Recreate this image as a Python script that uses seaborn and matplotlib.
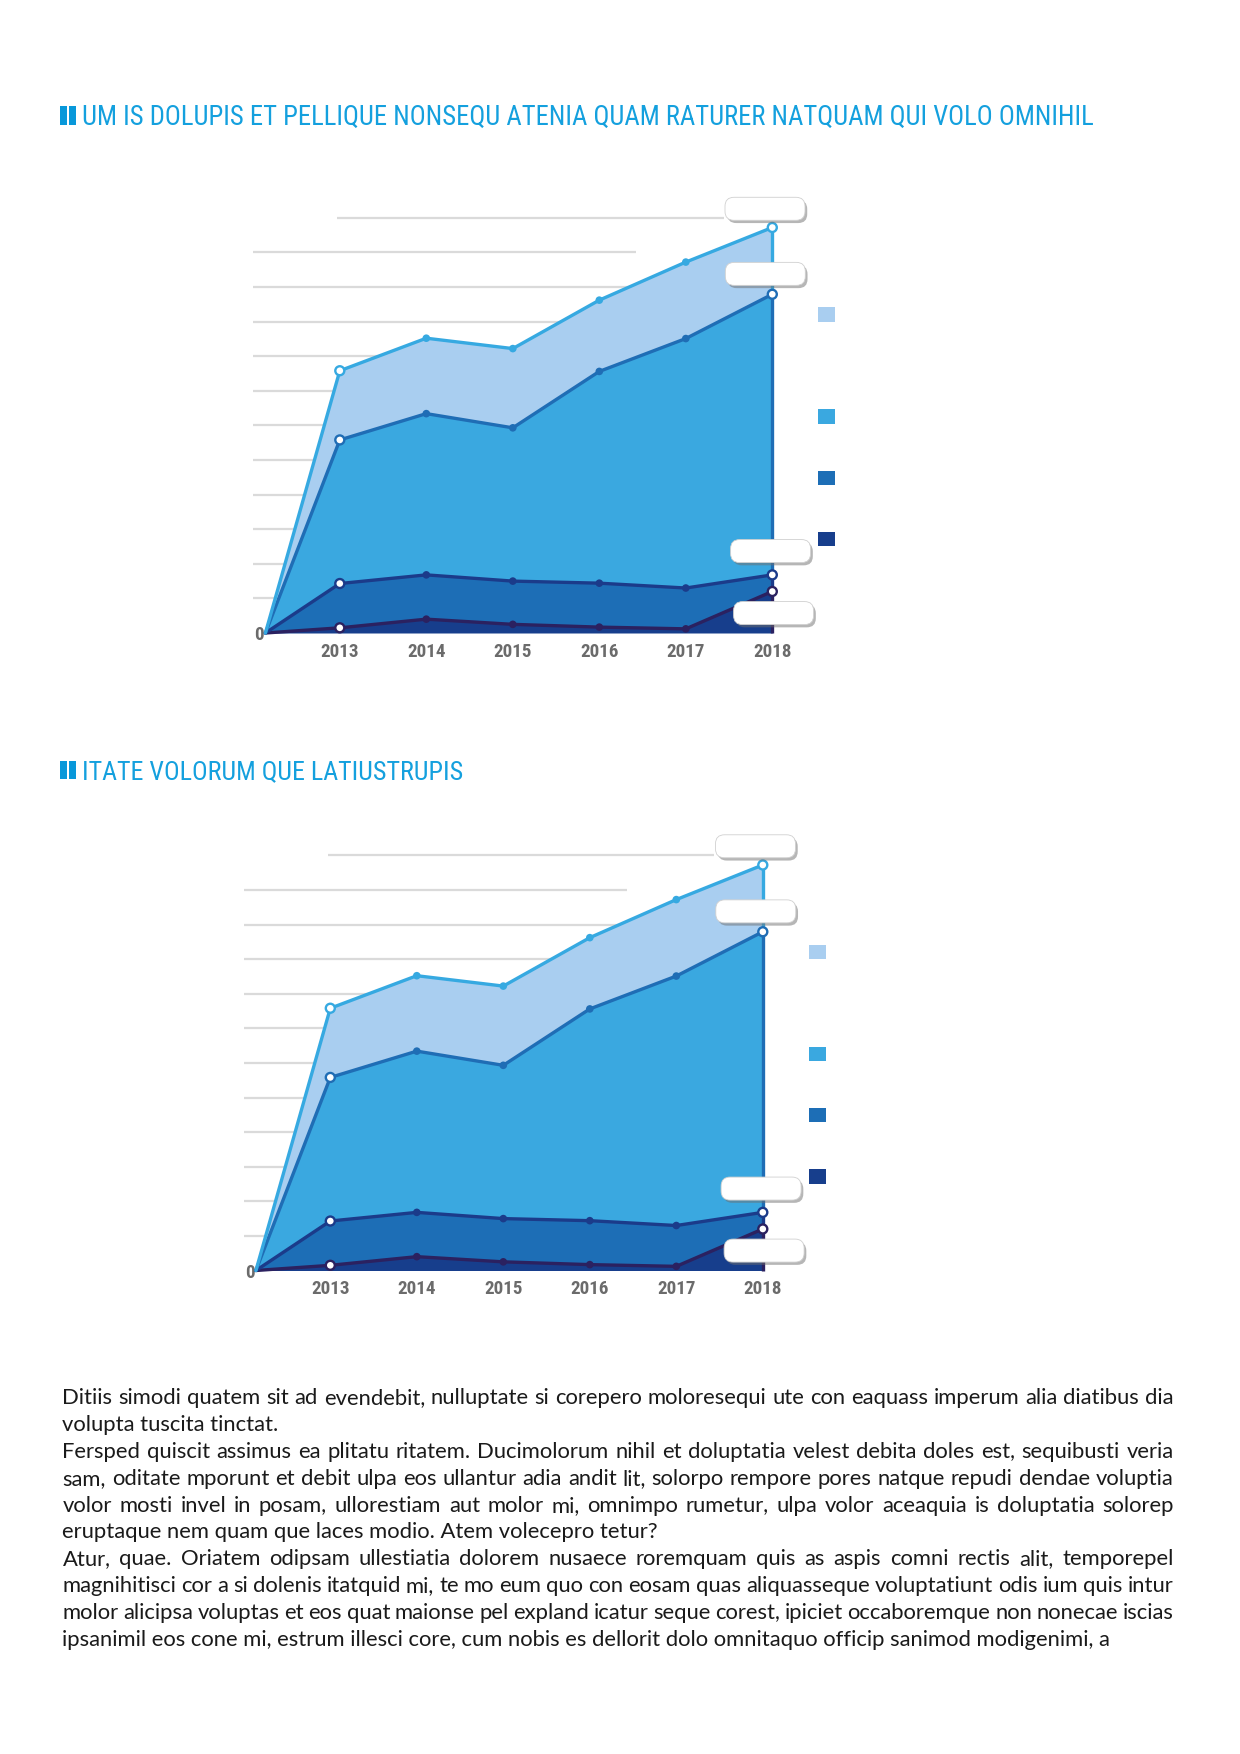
import numpy as np
import pandas as pd
import matplotlib
matplotlib.use("Agg")
import matplotlib.pyplot as plt
import matplotlib.transforms as mtransforms
import matplotlib.patheffects as pe
from matplotlib import font_manager
from matplotlib.patches import FancyBboxPatch, Rectangle, Patch
import seaborn as sns

# ---- data (stacked layers, bottom to top) ----
years = [2013, 2014, 2015, 2016, 2017, 2018]
year_labels = ["2013", "2014", "2015", "2016", "2017", "2018"]
series_names = ["darkest", "dark", "medium", "light"]
darkest_vals = [0.15, 0.40, 0.25, 0.17, 0.12, 1.20]
dark_vals = [1.28, 1.28, 1.25, 1.27, 1.18, 0.48]
medium_vals = [4.15, 4.66, 4.43, 6.12, 7.21, 8.11]
light_vals = [2.00, 2.18, 2.29, 2.06, 2.21, 1.93]
grid_levels = list(range(1, 13))

title_1 = "UM IS DOLUPIS ET PELLIQUE NONSEQU ATENIA QUAM RATURER NATQUAM QUI VOLO OMNIHIL"
title_2 = "ITATE VOLORUM QUE LATIUSTRUPIS"

paragraphs = [
    ["Ditiis simodi quatem sit ad evendebit, nulluptate si corepero moloresequi ute con eaquass imperum alia diatibus dia",
     "volupta tuscita tinctat."],
    ["Fersped quiscit assimus ea plitatu ritatem. Ducimolorum nihil et doluptatia velest debita doles est, sequibusti veria",
     "sam, oditate mporunt et debit ulpa eos ullantur adia andit lit, solorpo rempore pores natque repudi dendae voluptia",
     "volor mosti invel in posam, ullorestiam aut molor mi, omnimpo rumetur, ulpa volor aceaquia is doluptatia solorep",
     "eruptaque nem quam que laces modio. Atem volecepro tetur?"],
    ["Atur, quae. Oriatem odipsam ullestiatia dolorem nusaece roremquam quis as aspis comni rectis alit, temporepel",
     "magnihitisci cor a si dolenis itatquid mi, te mo eum quo con eosam quas aliquasseque voluptatiunt odis ium quis intur",
     "molor alicipsa voluptas et eos quat maionse pel expland icatur seque corest, ipiciet occaboremque non nonecae iscias",
     "ipsanimil eos cone mi, estrum illesci core, cum nobis es dellorit dolo omnitaquo officip sanimod modigenimi, a"],
]

# ---- styles ----
fill_colors = ["#173E8C", "#1D6EB6", "#3AA8E0", "#A9CEF0"]
line_colors = ["#2B2160", "#1B3B8A", "#1F6DB5", "#36A9E1"]
title_color = "#14A0DE"
bar_color = "#0898DA"
grid_color = "#DADADA"
tick_color = "#6B6B6B"

W, H, DPI = 1240, 1754, 100
X_START = 2012.14
X_MIN, X_MAX = 2012.0, 2019.2
Y_MAX = 12.8
PX_X = 86.5   # px per year
PX_Y = 34.6   # px per grid step

sns.set_theme(style="white")
available = {f.name for f in font_manager.fontManager.ttflist}


def pick(*names):
    for n in names:
        if n in available:
            return n
    return "DejaVu Sans"


narrow = pick("Liberation Sans Narrow", "Roboto Condensed", "DejaVu Sans Condensed", "Roboto")
body_font = pick("Lato", "Open Sans", "Noto Sans")
plt.rcParams["font.family"] = [narrow, "DejaVu Sans"]

fig = plt.figure(figsize=(W / DPI, H / DPI), dpi=DPI)
fig.patch.set_facecolor("white")
renderer = fig.canvas.get_renderer()


def measure(s, **kw):
    t = fig.text(0, 0, s, **kw)
    w = t.get_window_extent(renderer=renderer).width
    t.remove()
    return w


# font sizes fitted to the widths in the picture
year_kw = dict(family=[narrow, "DejaVu Sans"], weight="bold")
year_size = 14 * 38.5 / measure("2013", fontsize=14, **year_kw)
title_kw = dict(family=[narrow, "DejaVu Sans"])
body_kw = dict(family=[body_font, "DejaVu Sans"], color="#1A1A1A")
body_size = 13 * 1046 / measure(paragraphs[-1][-1], fontsize=13, **body_kw)


def add_title(text, baseline_px, width_px):
    size = 20 * width_px / measure(text, fontsize=20, **title_kw)
    for x0, w in [(59.5, 7.5), (69.0, 6.5)]:
        fig.add_artist(Rectangle((x0 / W, 1 - baseline_px / H), w / W, 18.5 / H,
                                 transform=fig.transFigure, color=bar_color, lw=0))
    fig.text(81.7 / W, 1 - baseline_px / H, text, fontsize=size,
             color=title_color, va="baseline", ha="left", **title_kw)


def add_chart(left_px, base_px):
    width_px = (X_MAX - X_MIN) * PX_X
    height_px = Y_MAX * PX_Y
    ax = fig.add_axes([left_px / W, (H - base_px) / H, width_px / W, height_px / H])
    ax.patch.set_alpha(0)

    xs = np.array([X_START] + years, dtype=float)
    layers = np.array([darkest_vals, dark_vals, medium_vals, light_vals])
    tops = np.cumsum(layers, axis=0)
    tops = np.hstack([np.zeros((len(layers), 1)), tops])
    bottoms = np.vstack([np.zeros(tops.shape[1]), tops[:-1]])

    # grid
    for g in grid_levels:
        if g == grid_levels[-1]:
            x0, x1 = 2012.97, 2017.44
        elif g == grid_levels[-2]:
            x0, x1 = X_MIN, 2016.43
        else:
            x0, x1 = X_MIN, years[-1]
        ax.hlines(g, x0, x1, color=grid_color, lw=1.6, zorder=0)

    for i in range(len(layers)):
        ax.fill_between(xs, bottoms[i], tops[i], color=fill_colors[i], lw=0, zorder=1)
    for i in range(len(layers)):
        ax.plot([xs[-1], xs[-1]], [bottoms[i][-1], tops[i][-1]], color=line_colors[i],
                lw=2.4, zorder=2, solid_capstyle="butt", clip_on=False)

    df = pd.DataFrame({
        "x": np.tile(xs, len(layers)),
        "y": tops.ravel(),
        "layer": np.repeat(series_names, len(xs)),
    })
    pal = dict(zip(series_names, line_colors))
    sns.lineplot(data=df, x="x", y="y", hue="layer", palette=pal, lw=2.4,
                 legend=False, sort=False, ax=ax, zorder=3, clip_on=False)

    pts = df[df["x"] != X_START]
    ends = pts[pts["x"].isin([years[0], years[-1]])]
    mids = pts[~pts["x"].isin([years[0], years[-1]])]
    sns.scatterplot(data=mids, x="x", y="y", hue="layer", palette=pal, s=30,
                    linewidth=0, legend=False, ax=ax, zorder=4, clip_on=False)
    sns.scatterplot(data=ends, x="x", y="y", color="white", s=42,
                    edgecolor=[pal[n] for n in ends["layer"]], linewidth=1.7,
                    legend=False, ax=ax, zorder=5, clip_on=False)

    # blank callout boxes next to the 2018 values
    box_offsets = {3: (-47.3, 7.2), 2: (-47.0, 8.9), 1: (-41.7, 12.3), 0: (-38.7, -33.1)}
    for i, (dx, dy) in box_offsets.items():
        trans = fig.dpi_scale_trans + mtransforms.ScaledTranslation(
            xs[-1], tops[i][-1], ax.transData)
        box = FancyBboxPatch((dx / DPI, dy / DPI), 80 / DPI, 23 / DPI,
                             boxstyle="round,pad=0,rounding_size=0.09",
                             transform=trans, fc="white", ec="#D0D0D0", lw=0.6,
                             zorder=6, clip_on=False)
        box.set_path_effects([pe.SimplePatchShadow(offset=(1.6, -2.0),
                                                   shadow_rgbFace="#6E6E6E", alpha=0.5),
                              pe.Normal()])
        ax.add_artist(box)

    # legend squares (labels are blank in the picture)
    handles = [Patch(facecolor=c, edgecolor="none") for c in reversed(fill_colors)]
    leg_kw = dict(loc="center left", bbox_transform=ax.transData, frameon=False,
                  handlelength=1.22, handleheight=1.22, borderpad=0, borderaxespad=0,
                  fontsize=10, labelcolor="white")
    leg1 = ax.legend(handles[:1], [" "], bbox_to_anchor=(2018.53, 9.2), **leg_kw)
    ax.add_artist(leg1)
    ax.legend(handles[1:], [" "] * 3, bbox_to_anchor=(2018.53, 4.48),
              labelspacing=3.33, **leg_kw)

    ax.set_xticks(years, year_labels)
    ax.set_yticks([0], ["0"])
    for lab in ax.get_xticklabels() + ax.get_yticklabels():
        lab.set_fontfamily([narrow, "DejaVu Sans"])
        lab.set_fontweight("bold")
        lab.set_fontsize(year_size)
        lab.set_color(tick_color)
    ax.tick_params(axis="x", length=0, pad=7)
    ax.tick_params(axis="y", length=0, pad=-7.6)
    sns.despine(ax=ax, left=True, bottom=True)
    ax.set_xlim(X_MIN, X_MAX)
    ax.set_ylim(0, Y_MAX)
    ax.set_xlabel("")
    ax.set_ylabel("")
    return ax


add_title(title_1, 125, 1012)
add_chart(253.3, 633)
add_title(title_2, 779, 381)
add_chart(243.8, 1270.5)

# body text, justified
BODY_LEFT, BODY_RIGHT = 62.5, 1173.5
y = 1404.5
for para in paragraphs:
    for k, line in enumerate(para):
        last = k == len(para) - 1
        if last:
            fig.text(BODY_LEFT / W, 1 - y / H, line, fontsize=body_size,
                     va="baseline", ha="left", **body_kw)
        else:
            words = line.split()
            widths = [measure(w, fontsize=body_size, **body_kw) for w in words]
            gap = (BODY_RIGHT - BODY_LEFT - sum(widths)) / (len(words) - 1)
            x = BODY_LEFT
            for wd, ww in zip(words, widths):
                fig.text(x / W, 1 - y / H, wd, fontsize=body_size,
                         va="baseline", ha="left", **body_kw)
                x += ww + gap
        y += 26.8

fig.savefig("out.png", dpi=DPI, facecolor="white")
